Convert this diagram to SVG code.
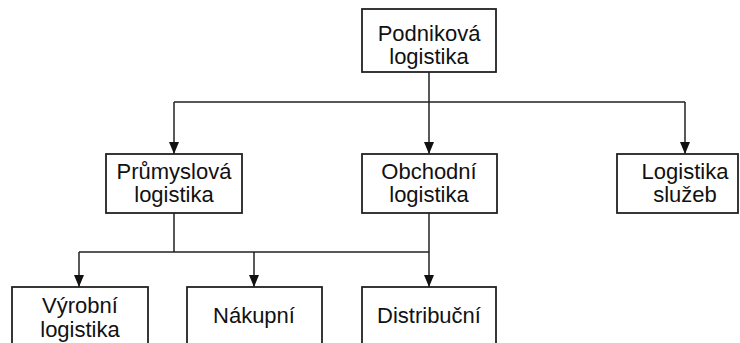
<svg xmlns="http://www.w3.org/2000/svg" width="740" height="343" viewBox="0 0 740 343">
  <style>
    .box { fill: #ffffff; stroke: #222222; stroke-width: 1.8; }
    .lbl { font-family: "Liberation Sans", Arial, sans-serif; font-size: 22px; fill: #111111; text-anchor: middle; }
    .wire { fill: none; stroke: #222222; stroke-width: 1.5; }
    .arrow { fill: none; stroke: #222222; stroke-width: 1.5; marker-end: url(#head); }
  </style>
  <defs>
    <!-- filled downward arrowhead, tip at the end of the line -->
    <marker id="head" viewBox="0 0 12 10" refX="12" refY="5" markerWidth="12" markerHeight="10" markerUnits="userSpaceOnUse" orient="auto">
      <path d="M0,0 L12,5 L0,10 Z" fill="#111111"/>
    </marker>
  </defs>
  <rect width="740" height="343" fill="#ffffff"/>

  <g id="connectors">
    <!-- level 1 branch -->
    <path class="wire" d="M429,72 V102 M174,102 H685"/>
    <line class="arrow" x1="174" y1="102" x2="174" y2="154"/>
    <line class="arrow" x1="429" y1="102" x2="429" y2="154"/>
    <line class="arrow" x1="685" y1="102" x2="685" y2="154"/>
    <!-- level 2 branch -->
    <path class="wire" d="M174,213 V252 M79,252 H429"/>
    <line class="arrow" x1="429" y1="213" x2="429" y2="287"/>
    <line class="arrow" x1="79" y1="252" x2="79" y2="287"/>
    <line class="arrow" x1="254" y1="252" x2="254" y2="287"/>
  </g>

  <g id="podnikova">
    <rect class="box" x="362" y="9" width="134" height="63"/>
    <text class="lbl" x="429" y="41">Podniková</text>
    <text class="lbl" x="429" y="64">logistika</text>
  </g>
  <g id="prumyslova">
    <rect class="box" x="106" y="154" width="136" height="59"/>
    <text class="lbl" x="174" y="179">Průmyslová</text>
    <text class="lbl" x="174" y="202">logistika</text>
  </g>
  <g id="obchodni">
    <rect class="box" x="362" y="154" width="135" height="59"/>
    <text class="lbl" x="429" y="179">Obchodní</text>
    <text class="lbl" x="429" y="202">logistika</text>
  </g>
  <g id="sluzeb">
    <rect class="box" x="617" y="154" width="121" height="59"/>
    <text class="lbl" x="685" y="179">Logistika</text>
    <text class="lbl" x="685" y="202">služeb</text>
  </g>
  <g id="vyrobni">
    <rect class="box" x="12" y="287" width="136" height="70"/>
    <text class="lbl" x="80" y="313">Výrobní</text>
    <text class="lbl" x="80" y="337">logistika</text>
  </g>
  <g id="nakupni">
    <rect class="box" x="187" y="287" width="135" height="70"/>
    <text class="lbl" x="254" y="323">Nákupní</text>
  </g>
  <g id="distribucni">
    <rect class="box" x="362" y="287" width="134" height="70"/>
    <text class="lbl" x="429" y="323">Distribuční</text>
  </g>
</svg>
